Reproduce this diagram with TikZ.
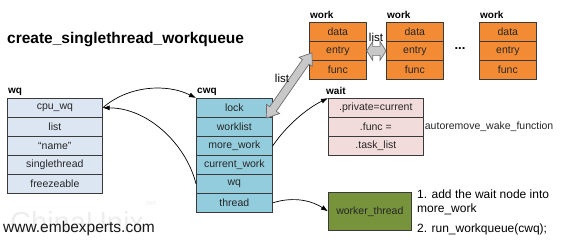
\documentclass[tikz,border=0pt]{standalone}
\usepackage{fontspec}
\setmainfont{Liberation Sans}
\usetikzlibrary{arrows.meta,calc}

\definecolor{wqfill}{HTML}{DCE6F2}
\definecolor{cwqfill}{HTML}{93CDDD}
\definecolor{waitfill}{HTML}{F2DCDB}
\definecolor{workfill}{HTML}{F38B34}
\definecolor{thrfill}{HTML}{77933C}
\definecolor{edge}{HTML}{3A3A3A}
\definecolor{arrowfill}{HTML}{C8C8C8}
\definecolor{arrowline}{HTML}{6E6E6E}

\begin{document}
\begin{tikzpicture}[x=1pt,y=-1pt,
  cell/.style={draw=edge, line width=0.7pt, inner sep=0pt, minimum height=19pt,
    anchor=north west, font=\fontsize{10.5}{12}\selectfont, text=black!85},
  wqcell/.style={cell, fill=wqfill, minimum width=95pt},
  cwqcell/.style={cell, fill=cwqfill, minimum width=76pt},
  waitcell/.style={cell, fill=waitfill, minimum width=95pt},
  workcell/.style={cell, fill=workfill, minimum width=57pt},
  hdr/.style={anchor=base west, inner sep=0pt, font=\bfseries\fontsize{10}{12}\selectfont},
  plain/.style={anchor=base west, inner sep=0pt},
  link/.style={-{Latex[length=7pt,width=5pt]}, line width=0.7pt},
  % double-headed block arrow: #1 head length, #2 head half width, #3 shaft half width
  blockarrow/.style n args={3}{draw=arrowline, fill=arrowfill, line width=0.7pt, line join=miter,
    to path={
      -- ($(\tikztostart)!#1!(\tikztotarget)!#2!90:(\tikztotarget)$)
      -- ($(\tikztostart)!#1!(\tikztotarget)!#3!90:(\tikztotarget)$)
      -- ($(\tikztotarget)!#1!(\tikztostart)!#3!-90:(\tikztostart)$)
      -- ($(\tikztotarget)!#1!(\tikztostart)!#2!-90:(\tikztostart)$)
      -- (\tikztotarget)
      -- ($(\tikztotarget)!#1!(\tikztostart)!#2!90:(\tikztostart)$)
      -- ($(\tikztotarget)!#1!(\tikztostart)!#3!90:(\tikztostart)$)
      -- ($(\tikztostart)!#1!(\tikztotarget)!#3!-90:(\tikztotarget)$)
      -- ($(\tikztostart)!#1!(\tikztotarget)!#2!-90:(\tikztotarget)$)
      -- cycle}}
]
\fill[white] (0,0) rectangle (570,249);
\useasboundingbox (0,0) rectangle (570,249);

% watermark and captions
\node[plain, text=gray!13, font=\fontsize{29}{32}\selectfont] (wm) at (10,232) {ChinaUnix};
\node[plain, text=gray!13, font=\fontsize{7}{8}\selectfont] (wmnet) at (144,205) {.net};
\node[plain, font=\bfseries\fontsize{15.5}{18}\selectfont] (title) at (7,43) {create\_singlethread\_workqueue};
\node[plain, text=black!90, font=\fontsize{15.5}{18}\selectfont] (site) at (3,232) {www.embexperts.com};

% workqueue_struct
\node[hdr] (wqlbl) at (8,93) {wq};
\foreach \t [count=\i] in {cpu\_wq, list, ``name'', singlethread, freezeable}
  \node[wqcell] (wq\i) at (7,{98+19*(\i-1)}) {\t};

% cpu_workqueue_struct
\node[hdr] (cwqlbl) at (197,93) {cwq};
\foreach \t [count=\i] in {lock, worklist, more\_work, current\_work, wq, thread}
  \node[cwqcell] (cwq\i) at (196,{98+19*(\i-1)}) {\t};

% wait queue entry
\node[hdr] (waitlbl) at (326,94) {wait};
\foreach \t [count=\i] in {.private=current, .func =, .task\_list}
  \node[waitcell] (wait\i) at (328,{98+19*(\i-1)}) {\t};
\node[anchor=west, inner sep=0pt, font=\fontsize{10.5}{12}\selectfont, text=black!85] (afn)
  at ($(wait2.east)+(1,0)$) {autoremove\_wake\_function};

% work items
\foreach \k/\x in {1/309,2/386,3/479}{
  \node[hdr] (wklbl\k) at ({\x+1},18) {work};
  \foreach \t [count=\i] in {data,entry,func}
    \node[workcell] (wk\k-\i) at (\x,{22+19*(\i-1)}) {\t};
}
\node[font=\bfseries\fontsize{13}{14}\selectfont] (dots) at (460,49) {...};

% worker thread
\node[cell, fill=thrfill, minimum width=83pt, minimum height=38pt] (thr) at (328,192) {worker\_thread};
\node[plain, font=\fontsize{12}{14}\selectfont] (note1) at (417,198) {1. add the wait node into};
\node[plain, font=\fontsize{12}{14}\selectfont] (note2) at (417,212) {more\_work};
\node[plain, font=\fontsize{12}{14}\selectfont] (note3) at (417,232) {2. run\_workqueue(cwq);};

% pointers
\draw[link] (wq1.east) .. controls +(25,-22) and +(-30,-15) .. (cwq1.north west);
\draw[link] (cwq5.west) .. controls +(-10,-40) and +(45,0) .. (wq1.east);
\draw[link] (cwq3.east) .. controls +(15,-22) and +(-20,10) .. (wait1.north west);
\draw[link] (cwq6.east) .. controls +(22,-7) and +(-15,-10) .. (thr.west);

% list linkage
\coordinate (lsA) at ($(cwq2.north east)+(-6,1)$);
\coordinate (lsB) at ($(wk1-2.west)+(3,2)$);
\draw[blockarrow={11pt}{8pt}{4pt}] (lsA) to (lsB);
\node[font=\fontsize{11.5}{13}\selectfont] (lslbl) at (282,78) {list};

\coordinate (lkA) at (wk1-2.east);
\coordinate (lkB) at (wk2-2.west);
\draw[blockarrow={6pt}{9.5pt}{4.5pt}] (lkA) to (lkB);
\node[font=\fontsize{11.5}{13}\selectfont] (lklbl) at (376,37) {list};
\end{tikzpicture}
\end{document}
